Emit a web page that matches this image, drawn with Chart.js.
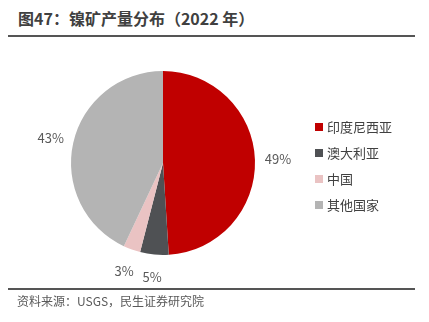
<!DOCTYPE html>
<html>
<head>
<meta charset="utf-8">
<script src="https://cdn.jsdelivr.net/npm/chart.js@4"></script>
<style>
  html, body { margin: 0; padding: 0; background: #fff; }
  body { width: 429px; height: 322px; position: relative; overflow: hidden;
         font-family: "Noto Sans CJK SC", "Noto Sans", sans-serif; }
  #title { position: absolute; left: 18px; top: 6px; font-size: 16px; font-weight: bold; color: #404040; }
  .rule { position: absolute; left: 8px; width: 407px; height: 2px; background: #555; }
  #source { position: absolute; left: 17px; top: 292px; font-size: 12px; color: #595959; }
  #chart-box { position: absolute; left: 0; top: 0; width: 429px; height: 322px; }
  #legend { position: absolute; left: 315px; top: 114px; font-size: 13px; color: #404040; }
  #legend div { height: 26px; line-height: 20px; display: flex; align-items: center; }
  #legend span.box { display: inline-block; width: 8px; height: 8px; margin-right: 4px; }
</style>
</head>
<body>
<div id="title">图47：镍矿产量分布（2022 年）</div>
<div class="rule" style="top:35px"></div>
<div id="chart-box"><canvas id="pie"></canvas></div>
<div id="legend"></div>
<div class="rule" style="top:288px"></div>
<div id="source">资料来源：USGS，民生证券研究院</div>

<script>
// 各国镍矿产量占比（%）
const countries = ['印度尼西亚', '澳大利亚', '中国', '其他国家'];
const shares = [49, 5, 3, 43];
const colors = ['#C00000', '#4F5154', '#EAC3C3', '#B4B4B4'];

// 扇区外侧的百分比标签
const outerLabels = {
  id: 'outerLabels',
  afterDatasetsDraw(chart) {
    const ctx = chart.ctx;
    const meta = chart.getDatasetMeta(0);
    ctx.save();
    ctx.font = '13px "Noto Sans CJK SC", "Noto Sans", sans-serif';
    ctx.fillStyle = '#595959';
    ctx.textAlign = 'center';
    ctx.textBaseline = 'middle';
    meta.data.forEach((arc, i) => {
      const mid = (arc.startAngle + arc.endAngle) / 2;
      const r = arc.outerRadius + 23;
      ctx.fillText(shares[i] + '%', arc.x + Math.cos(mid) * r, arc.y + Math.sin(mid) * r);
    });
    ctx.restore();
  }
};

new Chart(document.getElementById('pie'), {
  type: 'pie',
  data: {
    labels: countries,
    datasets: [{
      data: shares,
      backgroundColor: colors,
      borderWidth: 0
    }]
  },
  options: {
    responsive: true,
    maintainAspectRatio: false,
    animation: false,
    layout: { padding: { left: 71, right: 174, top: 71, bottom: 67 } },
    plugins: {
      legend: { display: false },
      tooltip: { enabled: false }
    }
  },
  plugins: [outerLabels]
});

// 右侧图例
const legend = document.getElementById('legend');
countries.forEach((name, i) => {
  const row = document.createElement('div');
  row.innerHTML = '<span class="box" style="background:' + colors[i] + '"></span>' + name;
  legend.appendChild(row);
});
</script>
</body>
</html>
